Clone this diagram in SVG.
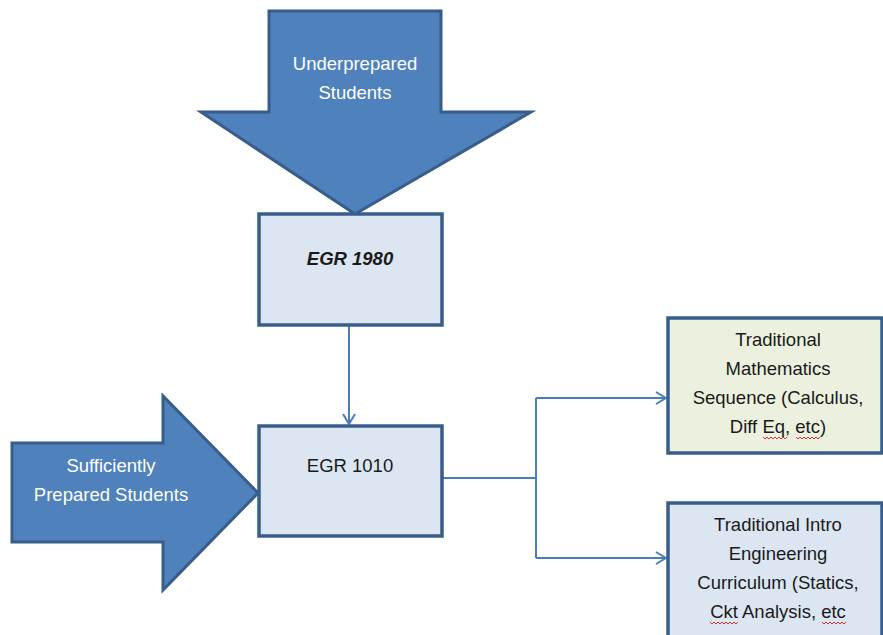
<svg xmlns="http://www.w3.org/2000/svg" width="883" height="635" viewBox="0 0 883 635">
<style>
.arrow{fill:#4F81BD;stroke:#385D8A;stroke-width:3;stroke-linejoin:miter}
.box{fill:#DCE6F2;stroke:#385D8A;stroke-width:3.5}
.green{fill:#EBF1DE}
.wt{font-family:"Liberation Sans",Arial,sans-serif;font-size:18.5px;fill:#FFFFFF;text-anchor:middle}
.bt{font-family:"Liberation Sans",Arial,sans-serif;font-size:18.5px;fill:#1A1A1A;text-anchor:middle}
.conn{fill:none;stroke:#4A7EBB;stroke-width:2}
.sq{fill:none;stroke:#E03030;stroke-width:1}
</style>
<defs>
<marker id="ah" viewBox="0 0 12 14" refX="11" refY="7" markerWidth="12" markerHeight="14" markerUnits="userSpaceOnUse" orient="auto">
<path d="M1,1 L11,7 L1,13" fill="none" stroke="#4A7EBB" stroke-width="2"/>
</marker>
</defs>
<rect width="883" height="635" fill="#FFFFFF"/>
<g id="connectors">
<path class="conn" d="M349,326 V424" marker-end="url(#ah)"/>
<path class="conn" d="M442,478 H536 M536,398 V558"/>
<path class="conn" d="M536,398 H666" marker-end="url(#ah)"/>
<path class="conn" d="M536,558 H666" marker-end="url(#ah)"/>
</g>
<g id="underprepared">
<polygon class="arrow" points="269,11 441,11 441,112 531,112 355,214 201,112 269,112"/>
<text class="wt" x="355" y="70">Underprepared</text>
<text class="wt" x="355" y="99">Students</text>
</g>
<g id="egr1980">
<rect class="box" x="259" y="214" width="183" height="111"/>
<text class="bt" x="350" y="265" font-weight="bold" font-style="italic">EGR 1980</text>
</g>
<g id="sufficient">
<polygon class="arrow" points="12,443 163,443 163,396 258,493 163,590 163,542 12,542"/>
<text class="wt" x="111" y="472">Sufficiently</text>
<text class="wt" x="111" y="501">Prepared Students</text>
</g>
<g id="egr1010">
<rect class="box" x="259" y="426" width="183" height="110"/>
<text class="bt" x="350" y="472">EGR 1010</text>
</g>
<g id="math">
<rect class="box green" x="668" y="318" width="214" height="135"/>
<text class="bt" x="778" y="346">Traditional</text>
<text class="bt" x="778" y="375">Mathematics</text>
<text class="bt" x="778" y="404">Sequence (Calculus,</text>
<text class="bt" x="778" y="433">Diff Eq, etc)</text>
<path class="sq" d="M763,437 l2,2 l2,-2 l2,2 l2,-2 l2,2 l2,-2 l2,2 l2,-2 l2,2 l2,-2 l2,2 l2,-2 M796,437 l2,2 l2,-2 l2,2 l2,-2 l2,2 l2,-2 l2,2 l2,-2 l2,2 l2,-2 l2,2 l2,-2"/>
</g>
<g id="intro">
<rect class="box" x="668" y="503" width="214" height="140"/>
<text class="bt" x="778" y="531">Traditional Intro</text>
<text class="bt" x="778" y="560">Engineering</text>
<text class="bt" x="778" y="589">Curriculum (Statics,</text>
<text class="bt" x="778" y="618">Ckt Analysis, etc</text>
<path class="sq" d="M710,622 l2,2 l2,-2 l2,2 l2,-2 l2,2 l2,-2 l2,2 l2,-2 l2,2 l2,-2 l2,2 l2,-2 l2,2 l2,-2 M822,622 l2,2 l2,-2 l2,2 l2,-2 l2,2 l2,-2 l2,2 l2,-2 l2,2 l2,-2 l2,2 l2,-2"/>
</g>
</svg>
